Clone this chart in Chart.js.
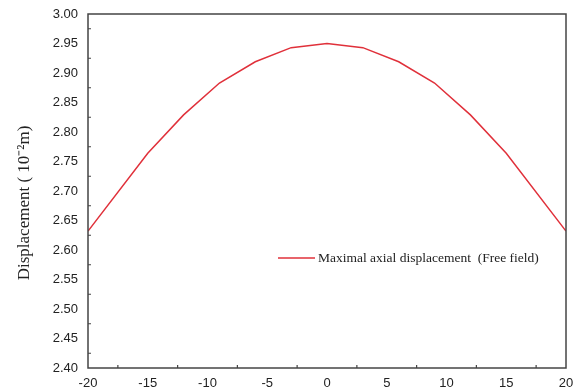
<!DOCTYPE html>
<html>
<head>
<meta charset="utf-8">
<script src="https://cdn.jsdelivr.net/npm/chart.js@4"></script>
<style>
  html, body { margin: 0; padding: 0; background: #fff; }
  #wrap { width: 575px; height: 390px; }
</style>
</head>
<body>
<div id="wrap"><canvas id="dispChart" width="575" height="390"></canvas></div>
<script>
const positions = [-20, -15, -12, -9, -6, -3, 0, 3, 6, 9, 12, 15, 20];
const displacement = [2.632, 2.764, 2.829, 2.883, 2.919, 2.943, 2.950, 2.943, 2.919, 2.883, 2.829, 2.764, 2.632];
const xMinorTicks = [-17.5, -12.5, -7.5, -2.5, 2.5, 7.5, 12.5, 17.5];
const yMinorTicks = [2.425, 2.475, 2.525, 2.575, 2.625, 2.675, 2.725, 2.775, 2.825, 2.875, 2.925, 2.975];
const seriesName = "Maximal axial displacement  (Free field)";

const frame = {
    id: "frame",
    afterDraw(chart) {
        const { ctx, chartArea: a, scales } = chart;
        ctx.save();
        ctx.strokeStyle = "#444";
        ctx.lineWidth = 1.5;
        ctx.strokeRect(a.left, a.top, a.right - a.left, a.bottom - a.top);
        ctx.lineWidth = 1.2;
        ctx.beginPath();
        xMinorTicks.forEach(v => {
            const px = scales.x.getPixelForValue(v);
            ctx.moveTo(px, a.bottom);
            ctx.lineTo(px, a.bottom - 3);
        });
        yMinorTicks.forEach(v => {
            const py = scales.y.getPixelForValue(v);
            ctx.moveTo(a.left, py);
            ctx.lineTo(a.left + 3, py);
        });
        ctx.stroke();

        // legend inside the plot
        const lx = a.left + 190, ly = a.top + 244;
        ctx.strokeStyle = "#e0303a";
        ctx.lineWidth = 1.5;
        ctx.beginPath();
        ctx.moveTo(lx, ly);
        ctx.lineTo(lx + 37, ly);
        ctx.stroke();
        ctx.fillStyle = "#222";
        ctx.font = "13.5px 'Liberation Serif', serif";
        ctx.textBaseline = "middle";
        ctx.fillText(seriesName, lx + 40, ly);

        // y axis title
        ctx.save();
        ctx.translate(25, 203);
        ctx.rotate(-Math.PI / 2);
        ctx.font = "17px 'Liberation Serif', serif";
        ctx.textAlign = "center";
        ctx.textBaseline = "middle";
        ctx.fillText("Displacement ( 10\u207B\u00B2m)", 0, 0);
        ctx.restore();
        ctx.restore();
    }
};

const ctx = document.getElementById("dispChart").getContext("2d");

new Chart(ctx, {
    type: "line",
    data: {
        datasets: [{
            label: seriesName,
            data: positions.map((x, i) => ({ x: x, y: displacement[i] })),
            borderColor: "#e0303a",
            borderWidth: 1.5,
            pointRadius: 0,
            fill: false,
            tension: 0
        }]
    },
    options: {
        responsive: false,
        animation: false,
        layout: { padding: { top: 14, right: 9, left: 0, bottom: 0 } },
        plugins: {
            legend: { display: false },
            tooltip: { enabled: false }
        },
        scales: {
            x: {
                type: "linear",
                min: -20,
                max: 20,
                grid: { display: false },
                border: { display: false },
                afterFit: s => { s.height = 22; },
                ticks: {
                    stepSize: 5,
                    padding: 0,
                    color: "#222",
                    font: { family: "'Liberation Sans', Arial, sans-serif", size: 13 }
                }
            },
            y: {
                min: 2.40,
                max: 3.00,
                grid: { display: false },
                border: { display: false },
                afterFit: s => { s.width = 88; },
                ticks: {
                    stepSize: 0.05,
                    padding: 2,
                    color: "#222",
                    callback: v => v.toFixed(2),
                    font: { family: "'Liberation Sans', Arial, sans-serif", size: 13 }
                }
            }
        }
    },
    plugins: [frame]
});
</script>
</body>
</html>
